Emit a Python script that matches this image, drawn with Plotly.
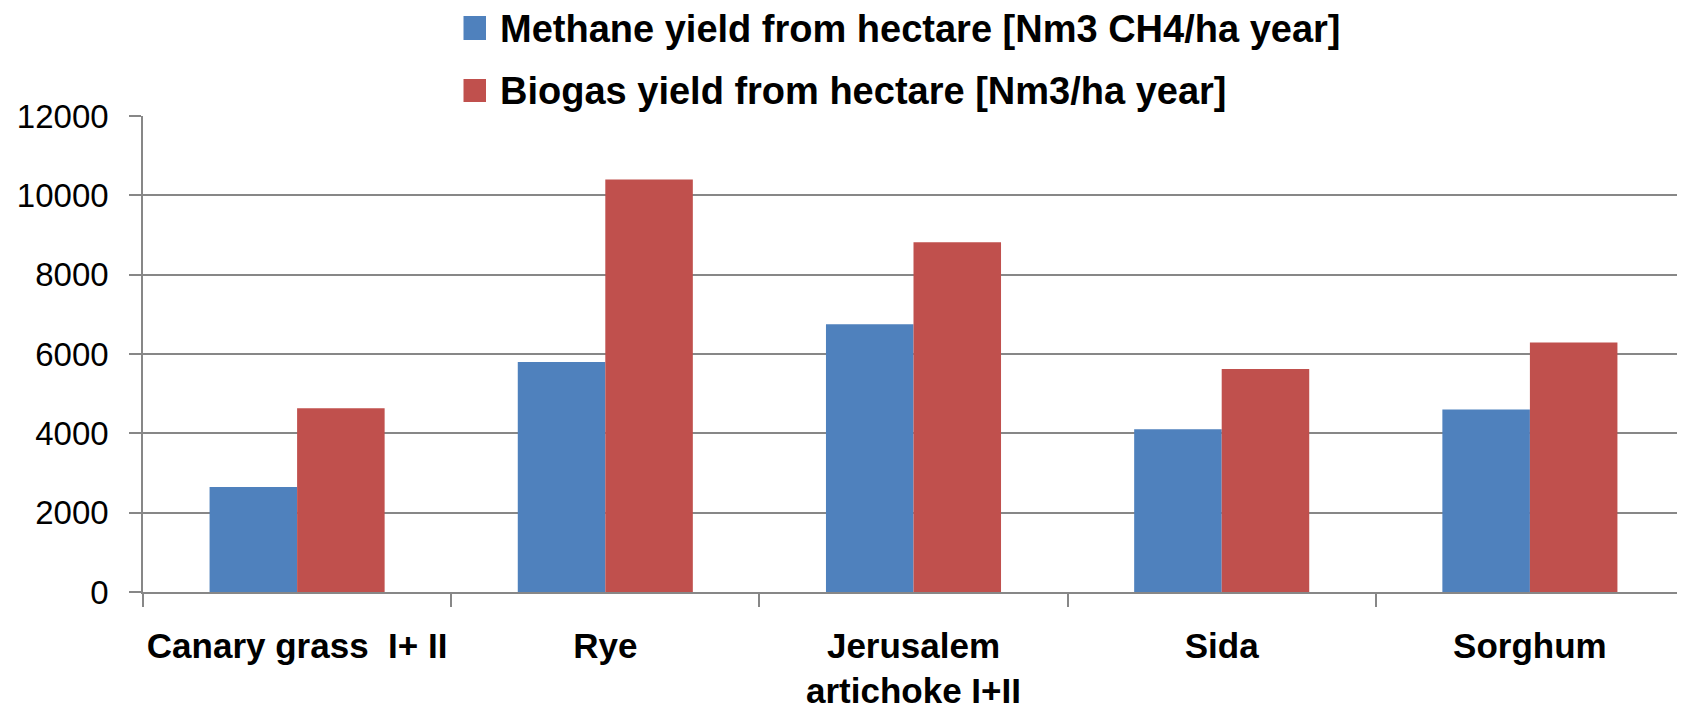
import plotly.graph_objects as go

categories = ["Canary grass\u00a0 I+ II", "Rye", "Jerusalem<br>artichoke I+II", "Sida", "Sorghum"]
series_names = ["Methane yield from hectare [Nm3 CH4/ha year]",
                "Biogas yield from hectare [Nm3/ha year]"]
methane = [2650, 5800, 6750, 4100, 4600]
biogas = [4630, 10400, 8820, 5620, 6290]
y_ticks = [0, 2000, 4000, 6000, 8000, 10000, 12000]
colors = ["#4F81BD", "#C0504D"]

# the page body has an 8px margin, so the figure starts at page (8, 8)
OFF = 8
W, H = 1685 - OFF, 720 - OFF
L, R, T, B = 143 - OFF, 1, 116 - OFF, 128
PW = W - L - R
PH = H - T - B

def px_x(p):
    return (p - OFF - L) / PW

def px_y(p):
    return (H - B - (p - OFF)) / PH

fig = go.Figure()
for name, vals, col in zip(series_names, [methane, biogas], colors):
    fig.add_trace(go.Bar(x=categories, y=vals, name=name, marker_color=col,
                         marker_line_width=0, showlegend=False))

grid_col = "#878787"
fig.update_layout(
    width=W, height=H,
    margin=dict(l=L, r=R, t=T, b=B, pad=0, autoexpand=False),
    paper_bgcolor="white", plot_bgcolor="white",
    barmode="group", bargap=0.432, bargroupgap=0,
    font=dict(family="Liberation Sans", color="black"),
)
fig.update_yaxes(
    range=[0, 12000], tickvals=y_ticks, ticktext=[str(v) for v in y_ticks],
    showgrid=True, gridcolor=grid_col, gridwidth=1.6,
    showline=True, linecolor=grid_col, linewidth=1.6,
    ticks="outside", ticklen=12, tickcolor=grid_col, tickwidth=1.6,
    tickfont=dict(family="Liberation Sans", size=33, color="black"),
    ticklabelstandoff=14, zeroline=False, automargin=False,
)
fig.update_xaxes(
    showline=True, linecolor=grid_col, linewidth=1.6,
    ticks="outside", tickson="boundaries", ticklen=13, tickcolor=grid_col, tickwidth=1.6,
    tickfont=dict(family="Liberation Sans", size=35, color="black", weight="bold"),
    tickangle=0, ticklabelstandoff=22, automargin=False,
)

# manual legend (large square swatches)
legend_rows = [(16, 40), (79, 102)]
for (top, bot), name, col in zip(legend_rows, series_names, colors):
    fig.add_shape(type="rect", xref="paper", yref="paper",
                  x0=px_x(463.5), x1=px_x(486), y0=px_y(bot), y1=px_y(top),
                  fillcolor=col, line_width=0)
    fig.add_annotation(text="<b>" + name + "</b>", xref="paper", yref="paper",
                       x=px_x(499), y=px_y((top + bot) / 2 + 1), xanchor="left", yanchor="middle",
                       showarrow=False, borderpad=0,
                       font=dict(family="Liberation Sans", size=38, color="black"))

fig.write_html("out.html")
